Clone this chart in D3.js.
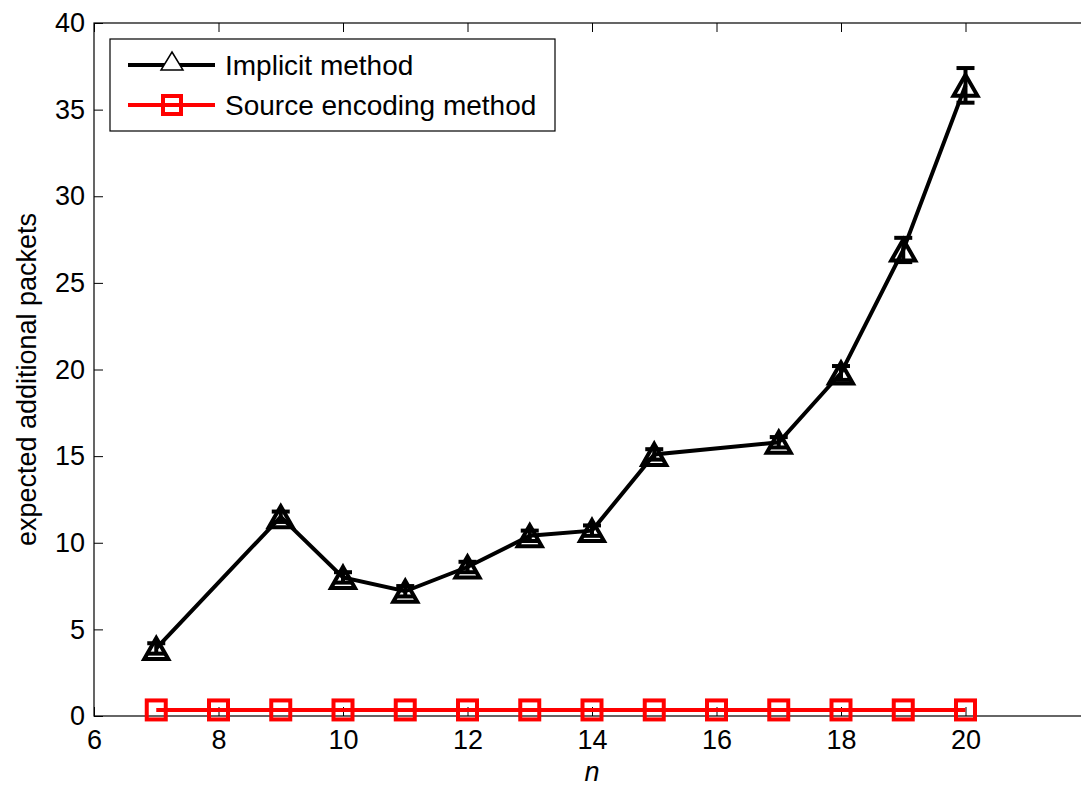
<!DOCTYPE html>
<html>
<head>
<meta charset="utf-8">
<script src="https://cdn.jsdelivr.net/npm/d3@7"></script>
<style>
  html, body { margin: 0; padding: 0; background: #fff; }
  svg { display: block; font-family: "Liberation Sans", Arial, sans-serif; }
</style>
</head>
<body>
<svg id="chart" width="1081" height="790"></svg>
<script>
// Number of nodes
const nValues = [7, 9, 10, 11, 12, 13, 14, 15, 17, 18, 19, 20];
// Expected additional packets, implicit method, with error half-widths
const implicitMean = [3.9, 11.5, 8.0, 7.2, 8.6, 10.4, 10.7, 15.1, 15.8, 19.8, 26.9, 36.4];
const implicitErr = [0.3, 0.3, 0.3, 0.3, 0.3, 0.3, 0.3, 0.3, 0.3, 0.4, 0.7, 1.0];
// Source encoding method
const sourceN = [7, 8, 9, 10, 11, 12, 13, 14, 15, 16, 17, 18, 19, 20];
const sourceMean = [0.35, 0.35, 0.35, 0.35, 0.35, 0.35, 0.35, 0.35, 0.35, 0.35, 0.35, 0.35, 0.35, 0.35];
const xTicks = [6, 8, 10, 12, 14, 16, 18, 20];
const yTicks = [0, 5, 10, 15, 20, 25, 30, 35, 40];
const seriesNames = ["Implicit method", "Source encoding method"];

const svg = d3.select("#chart");
const mLeft = 94, mRight = 1090, mTop = 23, mBottom = 716;
const x = d3.scaleLinear().domain([6, 22]).range([mLeft, mRight]);
const y = d3.scaleLinear().domain([0, 40]).range([mBottom, mTop]);
const fontSize = 27;

// Frame
svg.append("rect").attr("x", mLeft).attr("y", mTop)
  .attr("width", mRight - mLeft).attr("height", mBottom - mTop)
  .attr("fill", "none").attr("stroke", "#000").attr("stroke-width", 1.2);

const tickLen = 9;
// Bottom and left axes (inward ticks)
svg.append("g").attr("transform", `translate(0,${mBottom})`)
  .call(d3.axisBottom(x).tickValues(xTicks).tickSize(-tickLen).tickPadding(14).tickFormat(d3.format("d")));
svg.append("g").attr("transform", `translate(${mLeft},0)`)
  .call(d3.axisLeft(y).tickValues(yTicks).tickSize(-tickLen).tickPadding(9).tickFormat(d3.format("d")));
// Mirror ticks on top and right
svg.append("g").attr("transform", `translate(0,${mTop})`)
  .call(d3.axisTop(x).tickValues(xTicks).tickSize(-tickLen).tickFormat(""));
svg.append("g").attr("transform", `translate(${mRight},0)`)
  .call(d3.axisRight(y).tickValues(yTicks).tickSize(-tickLen).tickFormat(""));
svg.selectAll(".domain").remove();
svg.selectAll("g").attr("font-size", null).attr("font-family", null);
svg.selectAll(".tick line").attr("stroke", "#000").attr("stroke-width", 1);
svg.selectAll(".tick text").style("font-size", fontSize + "px").attr("fill", "#000");

// Axis labels
svg.append("text").attr("x", x(14)).attr("y", 781).attr("text-anchor", "middle")
  .style("font-size", fontSize + "px").attr("font-style", "italic").text("n");
svg.append("text").attr("transform", `translate(36,${(mTop + mBottom) / 2 + 10}) rotate(-90)`)
  .attr("text-anchor", "middle").style("font-size", fontSize + "px").text("expected additional packets");

// Source encoding series (red squares)
const srcData = sourceN.map((n, i) => ({ n, v: sourceMean[i] }));
svg.append("path").datum(srcData)
  .attr("d", d3.line().x(d => x(d.n)).y(d => y(d.v)))
  .attr("fill", "none").attr("stroke", "#ff0000").attr("stroke-width", 4);
const sq = 19;
svg.append("g").selectAll("rect").data(srcData).join("rect")
  .attr("x", d => x(d.n) - sq / 2).attr("y", d => y(d.v) - sq / 2)
  .attr("width", sq).attr("height", sq)
  .attr("fill", "none").attr("stroke", "#ff0000").attr("stroke-width", 4);

// Implicit series (black triangles with error bars)
const impData = nValues.map((n, i) => ({ n, v: implicitMean[i], e: implicitErr[i] }));
svg.append("path").datum(impData)
  .attr("d", d3.line().x(d => x(d.n)).y(d => y(d.v)))
  .attr("fill", "none").attr("stroke", "#000").attr("stroke-width", 4);
const eb = svg.append("g").attr("stroke", "#000").attr("stroke-width", 4);
const cap = 9;
impData.forEach(d => {
  const cx = x(d.n);
  eb.append("line").attr("x1", cx).attr("x2", cx).attr("y1", y(d.v - d.e)).attr("y2", y(d.v + d.e));
  eb.append("line").attr("x1", cx - cap).attr("x2", cx + cap).attr("y1", y(d.v + d.e)).attr("y2", y(d.v + d.e));
  eb.append("line").attr("x1", cx - cap).attr("x2", cx + cap).attr("y1", y(d.v - d.e)).attr("y2", y(d.v - d.e));
});
const triW = 24, triH = 21;
const tri = (cx, cy, w, h) => `M${cx},${cy - h / 2}L${cx + w / 2},${cy + h / 2}L${cx - w / 2},${cy + h / 2}Z`;
svg.append("g").selectAll("path").data(impData).join("path")
  .attr("d", d => tri(x(d.n), y(d.v), triW, triH))
  .attr("fill", "none").attr("stroke", "#000").attr("stroke-width", 4).attr("stroke-linejoin", "miter");

// Legend
const lg = svg.append("g");
lg.append("rect").attr("x", 110).attr("y", 39).attr("width", 445).attr("height", 92)
  .attr("fill", "#fff").attr("stroke", "#000").attr("stroke-width", 1.2);
const rows = [
  { name: seriesNames[0], color: "#000", y: 65 },
  { name: seriesNames[1], color: "#ff0000", y: 105 }
];
rows.forEach((r, i) => {
  lg.append("line").attr("x1", 128).attr("x2", 215).attr("y1", r.y).attr("y2", r.y)
    .attr("stroke", r.color).attr("stroke-width", 4);
  if (i === 0) {
    lg.append("path").attr("d", tri(172, r.y - 4, 22, 18))
      .attr("fill", "#fff").attr("stroke", "#000").attr("stroke-width", 1.5);
  } else {
    lg.append("rect").attr("x", 172 - 9).attr("y", r.y - 9).attr("width", 18).attr("height", 18)
      .attr("fill", "none").attr("stroke", r.color).attr("stroke-width", 4);
  }
  lg.append("text").attr("x", 225).attr("y", r.y + 10).style("font-size", "28px").text(r.name);
});
</script>
</body>
</html>
